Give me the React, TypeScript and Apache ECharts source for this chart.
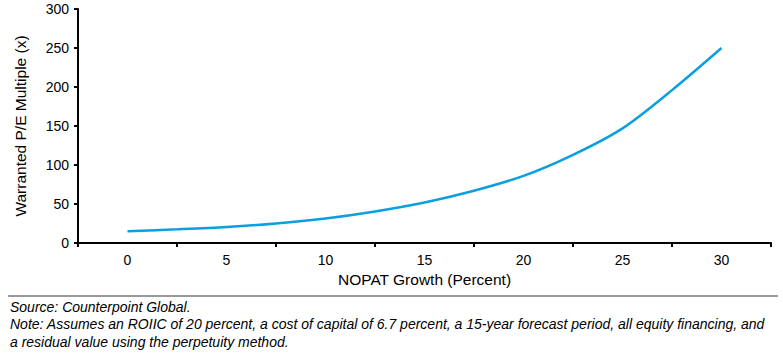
import React, { useEffect, useRef } from "react";
import * as echarts from "echarts";

const categories = ["0", "5", "10", "15", "20", "25", "30"];
const growth = [0, 2.5, 5, 7.5, 10, 12.5, 15, 17.5, 20, 22.5, 25, 27.5, 30];
const peMultiple = [15, 17.5, 20.5, 25, 31.5, 40.5, 52, 67, 86, 113, 147, 196, 250];
const yTicks = [0, 50, 100, 150, 200, 250, 300];
const sourceText = "Source: Counterpoint Global.";
const noteLines = [
  "Note: Assumes an ROIIC of 20 percent, a cost of capital of 6.7 percent, a 15-year forecast period, all equity financing, and",
  "a residual value using the perpetuity method.",
];

const FONT = "'Liberation Sans', Arial, sans-serif";

export default function App() {
  const ref = useRef<HTMLDivElement>(null);
  useEffect(() => {
    document.body.style.margin = "0";
    if (!ref.current) return;
    const chart = echarts.init(ref.current, undefined, { renderer: "svg" });
    chart.setOption({
      animation: false,
      backgroundColor: "#fff",
      textStyle: { fontFamily: FONT },
      grid: { left: 78, top: 9, right: 12, height: 234, containLabel: false },
      xAxis: [
        {
          type: "category",
          data: categories,
          boundaryGap: true,
          position: "bottom",
          axisLine: { lineStyle: { color: "#000", width: 2 } },
          axisTick: { show: true, interval: 0, length: 4, lineStyle: { color: "#000", width: 2 } },
          axisLabel: { color: "#000", fontSize: 14, margin: 10, fontFamily: FONT },
          name: "NOPAT Growth (Percent)",
          nameLocation: "middle",
          nameGap: 25,
          nameTextStyle: { color: "#000", fontSize: 15.5, fontFamily: FONT },
          splitLine: { show: false },
        },
        {
          type: "value",
          min: -2.5,
          max: 32.5,
          show: false,
          splitLine: { show: false },
        },
      ],
      yAxis: {
        type: "value",
        min: yTicks[0],
        max: yTicks[yTicks.length - 1],
        interval: 50,
        axisLine: { show: true, onZero: false, lineStyle: { color: "#000", width: 2 } },
        axisTick: { show: true, length: 4, lineStyle: { color: "#000", width: 2 } },
        axisLabel: { color: "#000", fontSize: 14, margin: 9, fontFamily: FONT },
        splitLine: { show: false },
        name: "Warranted P/E Multiple (x)",
        nameLocation: "middle",
        nameGap: 50,
        nameTextStyle: { color: "#000", fontSize: 15.5, fontFamily: FONT },
      },
      series: [
        {
          type: "line",
          xAxisIndex: 1,
          data: growth.map((g, i) => [g, peMultiple[i]]),
          smooth: 0.3,
          showSymbol: false,
          lineStyle: { color: "#0A9FE0", width: 2.5 },
        },
      ],
      graphic: [
        {
          type: "line",
          shape: { x1: 8, y1: 296, x2: 778, y2: 296 },
          style: { stroke: "#777", lineWidth: 1.5 },
        },
        {
          type: "text",
          x: 10,
          y: 307,
          style: {
            text: sourceText,
            fill: "#000",
            font: `italic 14px ${FONT}`,
            verticalAlign: "middle",
          },
        },
        ...noteLines.map((t, i) => ({
          type: "text",
          x: 10,
          y: 324 + i * 18,
          style: {
            text: t,
            fill: "#000",
            font: `italic 14px ${FONT}`,
            verticalAlign: "middle",
          },
        })),
      ],
    });
    return () => chart.dispose();
  }, []);
  return <div ref={ref} style={{ width: 783, height: 356 }} />;
}
